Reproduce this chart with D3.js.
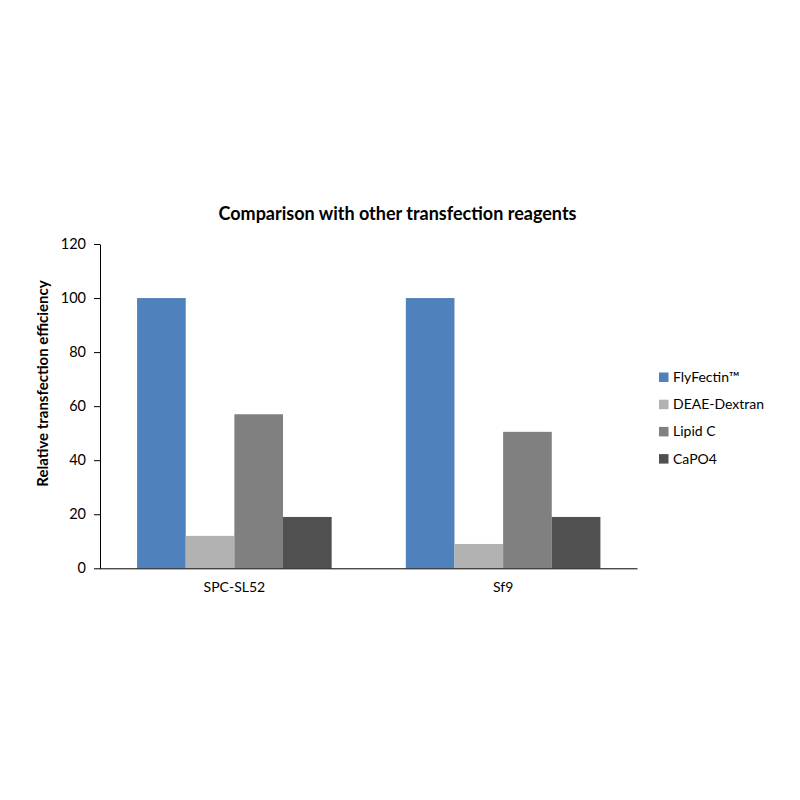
<!DOCTYPE html>
<html><head><meta charset="utf-8">
<script src="https://cdn.jsdelivr.net/npm/d3@7"></script>
<style>body{margin:0;background:#fff;} svg{display:block;font-family:Lato,"Open Sans",sans-serif;}</style>
</head><body>
<svg id="c" width="800" height="800"></svg>
<script>
const categories = ["SPC-SL52", "Sf9"];
const seriesNames = ["FlyFectin™", "DEAE-Dextran", "Lipid C", "CaPO4"];
const flyFectin = [100, 100];
const deaeDextran = [12, 9];
const lipidC = [57, 50.5];
const capo4 = [19, 19];
const yTicks = [0, 20, 40, 60, 80, 100, 120];
const colors = ["#4f81bd", "#b2b2b2", "#808080", "#505050"];
const seriesValues = [flyFectin, deaeDextran, lipidC, capo4];

const svg = d3.select("#c");
const mLeft = 100, mRight = 637.5, mTop = 244, mBottom = 568.3;

const y = d3.scaleLinear().domain([0, 120]).range([mBottom, mTop]);
const x0 = d3.scaleBand().domain(categories).range([mLeft, mRight]).paddingInner(0.276).paddingOuter(0.138);
const x1 = d3.scaleBand().domain(seriesNames).range([0, x0.bandwidth()]);

const data = categories.map((c, i) => ({cat: c, vals: seriesNames.map((s, j) => ({s, v: seriesValues[j][i], color: colors[j]}))}));

const g = svg.append("g").selectAll("g").data(data).join("g")
  .attr("transform", d => `translate(${x0(d.cat)},0)`);
g.selectAll("rect").data(d => d.vals).join("rect")
  .attr("x", d => x1(d.s)).attr("width", x1.bandwidth())
  .attr("y", d => y(d.v)).attr("height", d => y(0) - y(d.v))
  .attr("fill", d => d.color);

// y axis
const yAxis = svg.append("g").attr("transform", `translate(${mLeft},0)`)
  .call(d3.axisLeft(y).tickValues(yTicks).tickSize(6).tickPadding(8).tickSizeOuter(0));
yAxis.select(".domain").attr("stroke", "#000");
yAxis.selectAll(".tick line").attr("stroke", "#000");
yAxis.selectAll("text").attr("font-size", 14.5).attr("fill", "#000").attr("font-family", "Lato, sans-serif");

// x axis
const xAxis = svg.append("g").attr("transform", `translate(0,${mBottom})`)
  .call(d3.axisBottom(x0).tickSize(0).tickPadding(14).tickSizeOuter(0));
xAxis.select(".domain").attr("stroke", "#000").attr("d", `M${mLeft},0.5H${mRight}`);
xAxis.selectAll("text").attr("font-size", 14).attr("fill", "#000").attr("font-family", "Lato, sans-serif");

// title
svg.append("text").attr("x", 397.5).attr("y", 220).attr("text-anchor", "middle")
  .attr("font-size", 18).attr("font-weight", "bold").attr("fill", "#000")
  .text("Comparison with other transfection reagents");

// y label
svg.append("text").attr("transform", `translate(48,383.5) rotate(-90)`)
  .attr("text-anchor", "middle").attr("font-size", 15).attr("font-weight", "bold").attr("fill", "#000")
  .text("Relative transfection efficiency");

// legend
const leg = svg.append("g").selectAll("g").data(seriesNames).join("g")
  .attr("transform", (d, i) => `translate(659,${377 + i * 27.2})`);
leg.append("rect").attr("x", 0).attr("y", -4.5).attr("width", 9.5).attr("height", 9.5).attr("fill", (d, i) => colors[i]);
leg.append("text").attr("x", 14).attr("y", 0).attr("dy", "0.35em").attr("font-size", 14).attr("fill", "#000").text(d => d);
</script>
</body></html>
